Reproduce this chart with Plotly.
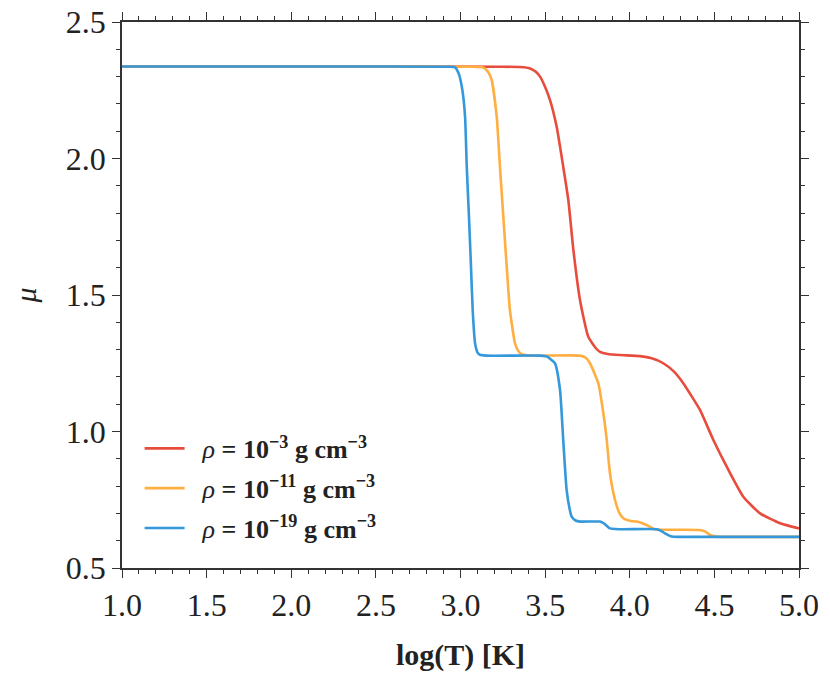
import plotly.graph_objects as go

# log(T) [K] and mean molecular weight, one pair per point
LOGT_RHO_3 = [1.0, 2.5, 3.233, 3.352, 3.411, 3.445, 3.470, 3.500, 3.529, 3.568, 3.607,
              3.637, 3.667, 3.706, 3.755, 3.800, 3.824, 3.870, 3.942, 4.061, 4.130,
              4.198, 4.260, 4.316, 4.370, 4.415, 4.494, 4.573, 4.671, 4.770, 4.888, 5.0]
MU_RHO_3 = [2.337, 2.337, 2.336, 2.335, 2.330, 2.318, 2.300, 2.262, 2.214, 2.117, 1.970,
            1.848, 1.665, 1.482, 1.347, 1.305, 1.292, 1.284, 1.280, 1.276, 1.268,
            1.250, 1.220, 1.177, 1.125, 1.079, 0.969, 0.871, 0.761, 0.700, 0.664, 0.645]

LOGT_RHO_11 = [1.0, 2.5, 3.056, 3.135, 3.160, 3.184, 3.214, 3.233, 3.253, 3.273, 3.292,
               3.322, 3.345, 3.362, 3.411, 3.706, 3.740, 3.765, 3.814, 3.844, 3.864,
               3.883, 3.913, 3.940, 3.962, 4.000, 4.041, 4.100, 4.149, 4.180, 4.415,
               4.450, 4.474, 4.514, 4.592, 5.0]
MU_RHO_11 = [2.337, 2.337, 2.336, 2.333, 2.320, 2.288, 2.153, 1.970, 1.787, 1.604, 1.445,
             1.323, 1.292, 1.283, 1.278, 1.278, 1.270, 1.250, 1.177, 1.067, 0.969,
             0.847, 0.749, 0.700, 0.682, 0.673, 0.670, 0.657, 0.642, 0.640, 0.639,
             0.632, 0.621, 0.615, 0.614, 0.614]

LOGT_RHO_19 = [1.0, 2.5, 2.938, 2.968, 2.990, 3.011, 3.027, 3.037, 3.050, 3.062, 3.072,
               3.086, 3.100, 3.115, 3.151, 3.470, 3.509, 3.558, 3.588, 3.607, 3.627,
               3.645, 3.657, 3.680, 3.706, 3.824, 3.850, 3.883, 3.942, 4.159, 4.185,
               4.208, 4.248, 4.297, 5.0]
MU_RHO_19 = [2.337, 2.337, 2.336, 2.334, 2.310, 2.251, 2.153, 1.970, 1.787, 1.604, 1.445,
             1.323, 1.290, 1.281, 1.278, 1.278, 1.275, 1.250, 1.152, 0.969, 0.786,
             0.715, 0.688, 0.674, 0.670, 0.670, 0.662, 0.645, 0.642, 0.642, 0.636,
             0.627, 0.615, 0.614, 0.614]

NAMES = ['&nbsp;&nbsp;<i>ρ</i><b> = 10<sup>−3</sup> g cm<sup>−3</sup></b>',
         '&nbsp;&nbsp;<i>ρ</i><b> = 10<sup>−11</sup> g cm<sup>−3</sup></b>',
         '&nbsp;&nbsp;<i>ρ</i><b> = 10<sup>−19</sup> g cm<sup>−3</sup></b>']
COLORS = ['#e74c3c', '#ffae42', '#3498db']

FONT = 'Liberation Serif'
AXIS_COLOR = '#333333'
TEXT_COLOR = '#222222'

fig = go.Figure()
series = [(LOGT_RHO_3, MU_RHO_3), (LOGT_RHO_11, MU_RHO_11), (LOGT_RHO_19, MU_RHO_19)]
for i, ((x, y), name, color) in enumerate(zip(series, NAMES, COLORS)):
    fig.add_trace(go.Scatter(
        x=x, y=y, mode='lines', name=name, legendgroup=f'g{i}',
        line=dict(color=color, width=2.6, shape='spline', smoothing=0.5),
    ))

axis_common = dict(
    showgrid=False, zeroline=False, automargin=False,
    showline=True, linecolor=AXIS_COLOR, linewidth=1.5,
    mirror='ticks', ticks='outside', ticklen=8, tickwidth=1.3, tickcolor=AXIS_COLOR,
    tickfont=dict(family=FONT, size=32, color=TEXT_COLOR),
    minor=dict(ticks='outside', ticklen=4.5, tickwidth=1, tickcolor=AXIS_COLOR, dtick=0.1),
)

fig.update_layout(
    width=830, height=680,
    margin=dict(l=122, r=31, t=22, b=112),
    plot_bgcolor='white', paper_bgcolor='white',
    showlegend=True,
    legend=dict(
        x=0.026, y=0.262, xanchor='left', yanchor='top',
        bgcolor='rgba(0,0,0,0)', borderwidth=0,
        font=dict(family=FONT, size=26, color=TEXT_COLOR),
        tracegroupgap=3, itemwidth=40,
    ),
    xaxis=dict(range=[1.0, 5.0], dtick=0.5, tickformat='.1f',
               title=dict(text='<b>log(T) [K]</b>', standoff=22,
                          font=dict(family=FONT, size=30, color=TEXT_COLOR)),
               **axis_common),
    yaxis=dict(range=[0.5, 2.5], dtick=0.5, tickformat='.1f',
               title=dict(text='<i>μ</i>', standoff=20,
                          font=dict(family=FONT, size=30, color=TEXT_COLOR)),
               **axis_common),
)

fig.write_html('out.html', config={'displayModeBar': False},
               post_script="document.body.style.margin='0';")
